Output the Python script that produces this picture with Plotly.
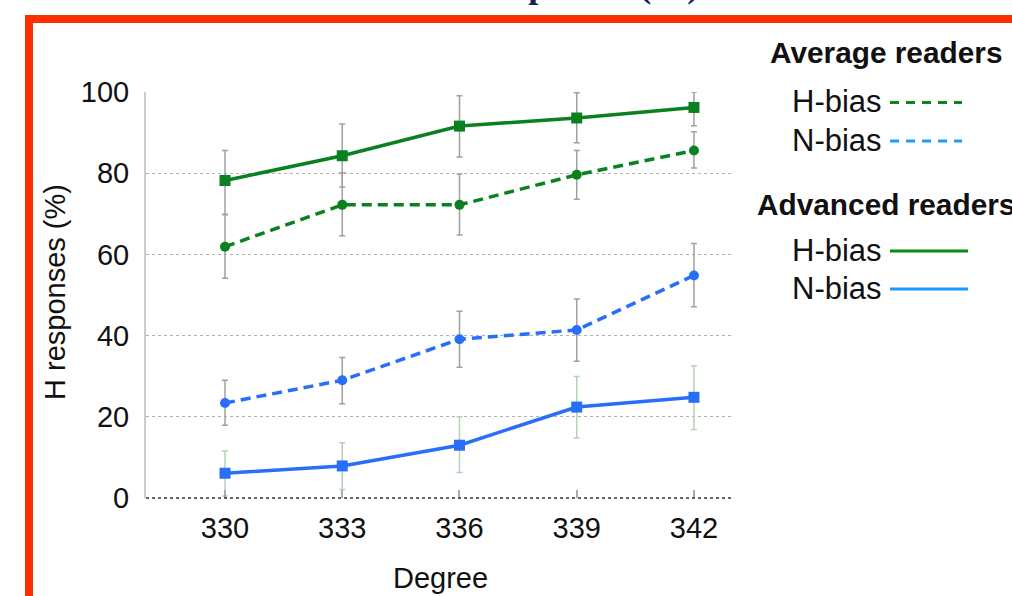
import plotly.graph_objects as go

# ---------------- data ----------------
degrees = ["330", "333", "336", "339", "342"]

adv_h = [78.2, 84.3, 91.6, 93.6, 96.2]
adv_h_plus = [7.4, 7.8, 7.5, 6.2, 3.8]
adv_h_minus = [8.4, 7.7, 7.6, 6.1, 4.5]

avg_h = [61.9, 72.2, 72.2, 79.6, 85.6]
avg_h_plus = [7.9, 7.9, 7.6, 6.0, 4.6]
avg_h_minus = [7.8, 7.6, 7.4, 6.0, 4.3]

avg_n = [23.4, 29.0, 39.1, 41.4, 54.8]
avg_n_plus = [5.6, 5.6, 6.9, 7.6, 7.9]
avg_n_minus = [5.5, 5.8, 6.9, 7.7, 7.7]

adv_n = [6.1, 7.9, 13.0, 22.4, 24.8]
adv_n_plus = [5.5, 5.7, 7.0, 7.5, 7.8]
adv_n_minus = [5.6, 5.8, 6.7, 7.6, 7.9]

y_ticks = [0, 20, 40, 60, 80, 100]

# ---------------- styles ----------------
GREEN = "#0b8020"
BLUE = "#286ef8"
LEG_GREEN = "#0a8a14"
LEG_BLUE = "#1a9aff"
RED = "#ff2d00"
FONT = "Liberation Sans, Arial, sans-serif"

W, H = 1012, 596
ML, MT = 146, 92
MR, MB = 279, 98
PW, PH = W - ML - MR, H - MT - MB


def px(x):
    return (x - ML) / PW


def py(y):
    return (H - MB - y) / PH


fig = go.Figure()


def add_series(y, plus, minus, color, dash, symbol, size, ecolor):
    fig.add_trace(go.Scatter(
        x=degrees, y=y, mode="lines+markers",
        line=dict(color=color, width=3.5, dash=dash),
        marker=dict(color=color, symbol=symbol, size=size),
        error_y=dict(type="data", symmetric=False, array=plus, arrayminus=minus,
                     color=ecolor, thickness=1.5, width=3),
        showlegend=False, hoverinfo="x+y",
    ))


add_series(adv_h, adv_h_plus, adv_h_minus, GREEN, "solid", "square", 11, "#a0a0a0")
add_series(avg_h, avg_h_plus, avg_h_minus, GREEN, "10px,6px", "circle", 10, "#a0a0a0")
add_series(avg_n, avg_n_plus, avg_n_minus, BLUE, "10px,6px", "circle", 10, "#a0a0a0")
add_series(adv_n, adv_n_plus, adv_n_minus, BLUE, "solid", "square", 11, "#b3d3b3")

shapes = [
    # baseline (dotted dark)
    dict(type="line", xref="paper", yref="paper", x0=0, x1=1, y0=0, y1=0,
         line=dict(color="#333333", width=1.5, dash="dot")),
    # red frame
    dict(type="rect", xref="paper", yref="paper", x0=px(25), x1=px(1030),
         y0=py(23), y1=py(15), fillcolor=RED, line=dict(width=0)),
    dict(type="rect", xref="paper", yref="paper", x0=px(25), x1=px(33),
         y0=py(610), y1=py(15), fillcolor=RED, line=dict(width=0)),
    # legend samples
    dict(type="line", xref="paper", yref="paper", x0=px(890), x1=px(962), y0=py(102.5), y1=py(102.5),
         line=dict(color=LEG_GREEN, width=3, dash="9px,7px")),
    dict(type="line", xref="paper", yref="paper", x0=px(890), x1=px(962), y0=py(141), y1=py(141),
         line=dict(color=LEG_BLUE, width=3, dash="9px,7px")),
    dict(type="line", xref="paper", yref="paper", x0=px(890), x1=px(968), y0=py(251), y1=py(251),
         line=dict(color=LEG_GREEN, width=3)),
    dict(type="line", xref="paper", yref="paper", x0=px(890), x1=px(968), y0=py(289), y1=py(289),
         line=dict(color=LEG_BLUE, width=3)),
]

annotations = [
    # title, clipped by the top edge as in the reference
    dict(text="<b>H responses (%)</b>", xref="paper", yref="paper", x=px(572), y=py(7),
         xanchor="center", yanchor="bottom", showarrow=False,
         font=dict(family="Liberation Serif, Times New Roman, serif", size=36, color="#1a1f5c")),
    # axis titles
    dict(text="H responses (%)", xref="paper", yref="paper", x=px(55), y=py(292),
         xanchor="center", yanchor="middle", textangle=-90, showarrow=False,
         font=dict(family=FONT, size=29, color="#111111")),
    dict(text="Degree", xref="paper", yref="paper", x=px(441), y=py(578),
         xanchor="center", yanchor="middle", showarrow=False,
         font=dict(family=FONT, size=29, color="#111111")),
    # legend
    dict(text="<b>Average readers</b>", xref="paper", yref="paper", x=px(768), y=py(53),
         xanchor="left", yanchor="middle", showarrow=False,
         font=dict(family=FONT, size=29.8, color="#111111")),
    dict(text="H-bias", xref="paper", yref="paper", x=px(884), y=py(102),
         xanchor="right", yanchor="middle", showarrow=False,
         font=dict(family=FONT, size=31, color="#111111")),
    dict(text="N-bias", xref="paper", yref="paper", x=px(884), y=py(140),
         xanchor="right", yanchor="middle", showarrow=False,
         font=dict(family=FONT, size=31, color="#111111")),
    dict(text="<b>Advanced readers</b>", xref="paper", yref="paper", x=px(755), y=py(204),
         xanchor="left", yanchor="middle", showarrow=False,
         font=dict(family=FONT, size=29.8, color="#111111")),
    dict(text="H-bias", xref="paper", yref="paper", x=px(884), y=py(250),
         xanchor="right", yanchor="middle", showarrow=False,
         font=dict(family=FONT, size=31, color="#111111")),
    dict(text="N-bias", xref="paper", yref="paper", x=px(884), y=py(288),
         xanchor="right", yanchor="middle", showarrow=False,
         font=dict(family=FONT, size=31, color="#111111")),
]

fig.update_layout(
    width=W, height=H,
    margin=dict(l=ML, r=MR, t=MT, b=MB, autoexpand=False),
    paper_bgcolor="white", plot_bgcolor="white",
    showlegend=False,
    font=dict(family=FONT, size=29, color="#111111"),
    xaxis=dict(type="category", range=[-0.674, 4.333], showgrid=False, zeroline=False,
               ticks="inside", ticklen=8, tickcolor="#aaaaaa", tickwidth=1.5,
               ticklabelstandoff=10, showline=False,
               tickfont=dict(family=FONT, size=29, color="#111111")),
    yaxis=dict(range=[0, 100], tickvals=y_ticks, showgrid=True, gridcolor="#b0b0b0",
               griddash="dot", gridwidth=1, zeroline=False, showline=True,
               linecolor="#cccccc", linewidth=2, ticks="", ticklabelstandoff=9,
               tickfont=dict(family=FONT, size=29, color="#111111")),
    shapes=shapes,
    annotations=annotations,
)

fig.write_html(
    "out.html",
    config={"displayModeBar": False},
    post_script="document.body.style.margin='0px';document.body.style.overflow='hidden';",
)
